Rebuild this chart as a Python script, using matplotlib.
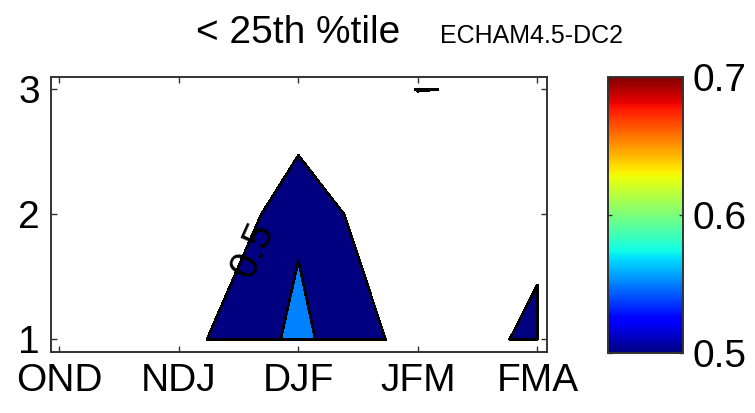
import matplotlib
matplotlib.use("Agg")
import matplotlib.pyplot as plt
import numpy as np
from matplotlib.colors import Normalize
from matplotlib.cm import ScalarMappable

plt.rcParams['font.family'] = ['Liberation Sans', 'DejaVu Sans']

# Seasons (x) and forecast leads (y)
seasons = ['OND', 'NDJ', 'DJF', 'JFM', 'FMA']
leads = [1, 2, 3]

# Score for the < 25th percentile category, one row per lead
lead1 = [0.450, 0.481, 0.562, 0.477, 0.507]
lead2 = [0.400, 0.405, 0.543, 0.431, 0.491]
lead3 = [0.410, 0.420, 0.452, 0.501, 0.495]

levels = [0.5, 0.55, 0.6, 0.65, 0.7]
cbar_ticks = [0.5, 0.6, 0.7]
title_main = '< 25th %tile'
title_model = 'ECHAM4.5-DC2'

x = np.arange(1, len(seasons) + 1)
y = np.array(leads)
z = np.array([lead1, lead2, lead3])

cmap = plt.get_cmap('jet')
norm = Normalize(vmin=levels[0], vmax=levels[-1])
fill_colors = [cmap(norm(lv)) for lv in levels[:-1]]

fig = plt.figure(figsize=(7.55, 4.13), dpi=100)
ax = fig.add_axes([0.0675, 0.1477, 0.657, 0.6659])

cs = ax.contourf(x, y, z, levels=levels, colors=fill_colors)
cs.set_edgecolor('black')
cs.set_linewidth(1.1)

ax.set_xlim(0.93, 5.08)
ax.set_ylim(0.9, 3.1)
ax.set_xticks(x)
ax.set_xticklabels(seasons)
ax.set_yticks(leads)
ax.tick_params(direction='in', top=True, right=True, length=4, width=1.0,
               labelsize=28, color='#333333')
ax.tick_params(axis='x', pad=8)
ax.tick_params(axis='y', pad=8)
for sp in ax.spines.values():
    sp.set_linewidth(1.4)
    sp.set_color('#333333')

# contour label for the lowest level
ax.text(2.62, 1.72, f'{levels[0]:g}', rotation=66, fontsize=29,
        ha='center', va='center', rotation_mode='anchor')

# colour bar
cax = fig.add_axes([0.8053, 0.1453, 0.0993, 0.6683])
cb = fig.colorbar(ScalarMappable(norm=norm, cmap=cmap), cax=cax, ticks=cbar_ticks)
cb.ax.set_yticklabels([f'{t:g}' for t in cbar_ticks])
cb.ax.tick_params(direction='in', left=True, right=True, length=3, width=1.0,
                  labelsize=28, pad=7, color='#333333')
cb.outline.set_linewidth(1.4)
cb.outline.set_edgecolor('#333333')

fig.text(0.3955, 1 - 43 / 413, title_main, fontsize=28, ha='center', va='baseline')
fig.text(440 / 755, 1 - 43 / 413, title_model, fontsize=18, ha='left', va='baseline')

fig.savefig('out.png', dpi=100)
